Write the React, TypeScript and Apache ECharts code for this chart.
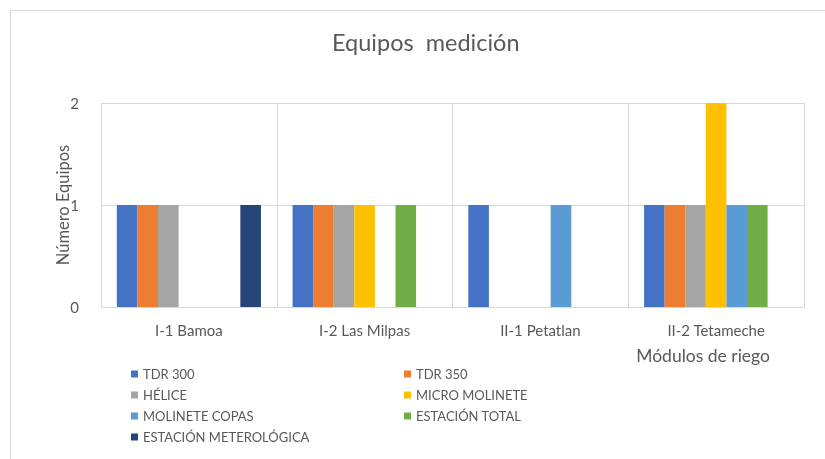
import React, { useEffect, useRef } from "react";
import * as echarts from "echarts";

const categories = ["I-1 Bamoa", "I-2 Las Milpas", "II-1 Petatlan", "II-2 Tetameche"];
const seriesNames = [
  "TDR 300",
  "TDR 350",
  "HÉLICE",
  "MICRO MOLINETE",
  "MOLINETE COPAS",
  "ESTACIÓN TOTAL",
  "ESTACIÓN METEROLÓGICA",
];
const tdr300 = [1, 1, 1, 1];
const tdr350 = [1, 1, 0, 1];
const helice = [1, 1, 0, 1];
const microMolinete = [0, 1, 0, 2];
const molineteCopas = [0, 0, 1, 1];
const estacionTotal = [0, 1, 0, 1];
const estacionMeteo = [1, 0, 0, 0];
const seriesValues = [tdr300, tdr350, helice, microMolinete, molineteCopas, estacionTotal, estacionMeteo];
const colors = ["#4472C4", "#ED7D31", "#A5A5A5", "#FFC000", "#5B9BD5", "#70AD47", "#264478"];

const FONT = "Lato, 'Open Sans', sans-serif";
const TXT = "#595959";

export default function App() {
  const ref = useRef<HTMLDivElement>(null);
  useEffect(() => {
    if (!ref.current) return;
    const chart = echarts.init(ref.current, undefined, { renderer: "svg" });
    const legendStyle = {
      orient: "vertical" as const,
      icon: "rect",
      itemWidth: 7,
      itemHeight: 7,
      itemGap: 7,
      height: 120,
      textStyle: { color: TXT, fontSize: 13, fontFamily: FONT, lineHeight: 14 },
      padding: 0,
    };
    chart.setOption({
      animation: false,
      color: colors,
      textStyle: { fontFamily: FONT },
      graphic: [
        {
          type: "rect",
          shape: { x: 10.5, y: 10.5, width: 830, height: 470 },
          style: { fill: "none", stroke: "#d9d9d9", lineWidth: 1 },
          silent: true,
        },
      ],
      title: {
        text: "Equipos  medición",
        left: 327,
        top: 25,
        textStyle: { color: TXT, fontSize: 23.5, fontWeight: "normal", fontFamily: FONT },
      },
      legend: [
        {
          ...legendStyle,
          left: 131,
          top: 367,
          data: [seriesNames[0], seriesNames[2], seriesNames[4], seriesNames[6]],
        },
        {
          ...legendStyle,
          left: 404,
          top: 367,
          data: [seriesNames[1], seriesNames[3], seriesNames[5]],
        },
      ],
      grid: { left: 101, right: 21, top: 103, bottom: 152 },
      xAxis: {
        type: "category",
        data: categories,
        name: "Módulos de riego",
        nameLocation: "end",
        nameGap: 0,
        nameTextStyle: {
          color: TXT,
          fontSize: 17.5,
          fontFamily: FONT,
          align: "right",
          verticalAlign: "top",
          padding: [39, 34, 0, 0],
        },
        axisLine: { lineStyle: { color: "#d9d9d9" } },
        axisTick: { show: false },
        axisLabel: { color: TXT, fontSize: 15, fontFamily: FONT, margin: 15 },
        splitLine: { show: true, lineStyle: { color: "#d9d9d9" } },
      },
      yAxis: {
        type: "value",
        min: 0,
        max: 2,
        interval: 1,
        name: "Número Equipos",
        nameLocation: "middle",
        nameGap: 30,
        nameMoveOverlap: false,
        nameTextStyle: { color: TXT, fontSize: 16.5, fontFamily: FONT },
        axisLine: { show: false },
        axisTick: { show: false },
        axisLabel: { color: TXT, fontSize: 15, fontFamily: FONT, margin: 22 },
        splitLine: { lineStyle: { color: "#d9d9d9" } },
      },
      series: seriesNames.map((name, i) => ({
        name,
        type: "bar",
        data: seriesValues[i],
        barGap: "0%",
        barCategoryGap: "18%",
      })),
    });
    return () => chart.dispose();
  }, []);
  return (
    <div
      ref={ref}
      style={{ position: "fixed", left: 0, top: 0, width: 825, height: 459 }}
    />
  );
}
